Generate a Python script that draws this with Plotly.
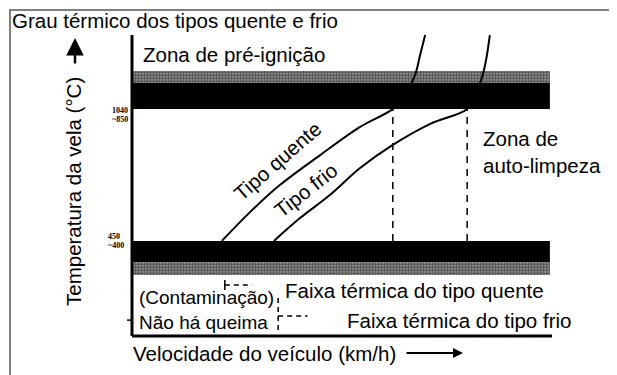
import plotly.graph_objects as go

W, H = 617, 375
OFF = 8  # page body margin around the figure

# curves (x: vehicle speed, 0-100 diagram units; y: plug temperature, 0-100 diagram units)
hot_x = [21.4, 28.1, 35.2, 44.8, 54.3, 62.1, 65.0, 67.4, 68.6, 69.8]
hot_y = [31.7, 41.3, 50.3, 60.3, 69.7, 75.7, 80.3, 87.0, 93.7, 100.3]
cold_x = [33.8, 40.0, 47.1, 54.3, 62.1, 71.0, 79.8, 81.7, 83.3, 84.3, 85.2]
cold_y = [31.7, 39.3, 47.0, 56.0, 63.7, 70.7, 75.7, 80.3, 86.0, 92.0, 100.3]

# zone bands (solid part and speckled edge)
upper_band = [75.7, 84.3]
upper_speckle = [84.3, 88.3]
lower_band = [24.7, 31.7]
lower_speckle = [20.3, 24.7]
band_x = [0, 99.5]

# where each type reaches the pre-ignition zone
limit_x = [62.1, 79.8]
limit_y = [31.7, 75.7]

tick_upper = ["1040", "~850"]
tick_lower = ["450", "~400"]

fig = go.Figure()


def rect(x, y, **kw):
    fig.add_trace(go.Scatter(x=[x[0], x[1], x[1], x[0], x[0]],
                             y=[y[0], y[0], y[1], y[1], y[0]],
                             mode="lines", fill="toself", line=dict(width=0),
                             hoverinfo="skip", showlegend=False, **kw))


speckle = dict(shape=".", fgcolor="black", bgcolor="#aaa", size=3, solidity=0.7)
rect(band_x, upper_speckle, fillcolor="#999", fillpattern=speckle)
rect(band_x, lower_speckle, fillcolor="#999", fillpattern=speckle)
rect(band_x, upper_band, fillcolor="black")
rect(band_x, lower_band, fillcolor="black")

for xs, ys in [(hot_x, hot_y), (cold_x, cold_y)]:
    fig.add_trace(go.Scatter(x=xs, y=ys, mode="lines", line=dict(color="black", width=2, shape="spline"),
                             hoverinfo="skip", showlegend=False))

for lx in limit_x:
    fig.add_trace(go.Scatter(x=[lx, lx], y=limit_y, mode="lines",
                             line=dict(color="black", width=1.5, dash="7px,6px"),
                             hoverinfo="skip", showlegend=False))

# range markers under the lower band
fig.add_trace(go.Scatter(x=[hot_x[0] + 0.7, hot_x[0] + 0.7], y=[15.3, 18.7], mode="lines",
                         line=dict(color="black", width=1.5), hoverinfo="skip", showlegend=False))
fig.add_trace(go.Scatter(x=[hot_x[0] + 0.7, hot_x[0] + 7.2], y=[17, 17], mode="lines",
                         line=dict(color="black", width=1.5, dash="5px,4px"), hoverinfo="skip", showlegend=False))
fig.add_trace(go.Scatter(x=[cold_x[0] + 1, cold_x[0] + 1], y=[2, 13], mode="lines",
                         line=dict(color="black", width=1.5, dash="5px,4px"), hoverinfo="skip", showlegend=False))
fig.add_trace(go.Scatter(x=[cold_x[0] + 1, cold_x[0] + 8], y=[6.7, 6.7], mode="lines",
                         line=dict(color="black", width=1.5, dash="5px,4px"), hoverinfo="skip", showlegend=False))

# axes
fig.add_shape(type="line", x0=0, x1=0, y0=0, y1=100.3, line=dict(color="black", width=3))
fig.add_shape(type="line", x0=0, x1=100, y0=0, y1=0, line=dict(color="black", width=3))
fig.add_shape(type="line", x0=-1.2, x1=0, y0=5.3, y1=5.3, line=dict(color="black", width=1.5))


def px(x):
    return (x - OFF) / W


def py(y):
    return 1 - (y - OFF) / H


# outer frame
fig.add_shape(type="rect", xref="paper", yref="paper", x0=px(10), x1=px(613), y0=-0.2, y1=py(10),
              line=dict(color="#555", width=1.5))

font = dict(family="Liberation Sans, Arial", size=20.5, color="black")
texts = [
    ("Grau térmico dos tipos quente e frio", 10, 20),
    ("Zona de pré-ignição", 141, 55),
    ("Faixa térmica do tipo quente", 283, 290),
    ("Faixa térmica do tipo frio", 345, 320),
    ("Velocidade do veículo (km/h)", 131, 353),
]
for t, x, y in texts:
    fig.add_annotation(text=t, x=px(x), y=py(y), xref="paper", yref="paper", xanchor="left",
                       yanchor="middle", showarrow=False, font=font)

fig.add_annotation(text="(Contaminação)<br>Não há queima", x=px(137), y=py(310), xref="paper",
                   yref="paper", xanchor="left", yanchor="middle", align="left", showarrow=False,
                   font=dict(family="Liberation Sans, Arial", size=19, color="black"))
fig.add_annotation(text="Zona de<br>auto-limpeza", x=px(481), y=py(152), xref="paper", yref="paper",
                   xanchor="left", yanchor="middle", align="left", showarrow=False, font=font)
fig.add_annotation(text="Tipo quente", x=px(278), y=py(161), xref="paper", yref="paper",
                   textangle=-41, showarrow=False, font=font)
fig.add_annotation(text="Tipo frio", x=px(305), y=py(190), xref="paper", yref="paper",
                   textangle=-38, showarrow=False, font=font)
fig.add_annotation(text="Temperatura da vela (°C)", x=px(74), y=py(192), xref="paper", yref="paper",
                   xanchor="center", yanchor="middle", textangle=-90, showarrow=False, font=font)

# axis arrows
fig.add_annotation(x=px(75), y=py(38), ax=0, ay=27, xref="paper", yref="paper",
                   axref="pixel", ayref="pixel", text="", showarrow=True, arrowhead=2,
                   arrowsize=1.4, arrowwidth=2.5, arrowcolor="black")
fig.add_annotation(x=px(463), y=py(353), ax=-58, ay=0, xref="paper", yref="paper",
                   axref="pixel", ayref="pixel", text="", showarrow=True, arrowhead=2,
                   arrowsize=1, arrowwidth=2, arrowcolor="black")

tfont = dict(family="Liberation Serif", size=8, color="black")
for t, y in zip(tick_upper, [104, 113]):
    fig.add_annotation(text="<b>%s</b>" % t, x=px(110), y=py(y), xref="paper", yref="paper",
                       showarrow=False, font=tfont)
for t, y in zip(tick_lower, [236, 245]):
    fig.add_annotation(text="<b>%s</b>" % t, x=px(106), y=py(y), xref="paper", yref="paper",
                       showarrow=False, font=tfont)

fig.update_layout(
    width=W, height=H, margin=dict(l=0, r=0, t=0, b=0),
    paper_bgcolor="white", plot_bgcolor="white",
    xaxis=dict(range=[-(132 - OFF) / 4.2, (W - 132 + OFF) / 4.2], visible=False, fixedrange=True),
    yaxis=dict(range=[(336 - OFF - H) / 3, (336 - OFF) / 3], visible=False, fixedrange=True),
)
fig.write_html("out.html")
